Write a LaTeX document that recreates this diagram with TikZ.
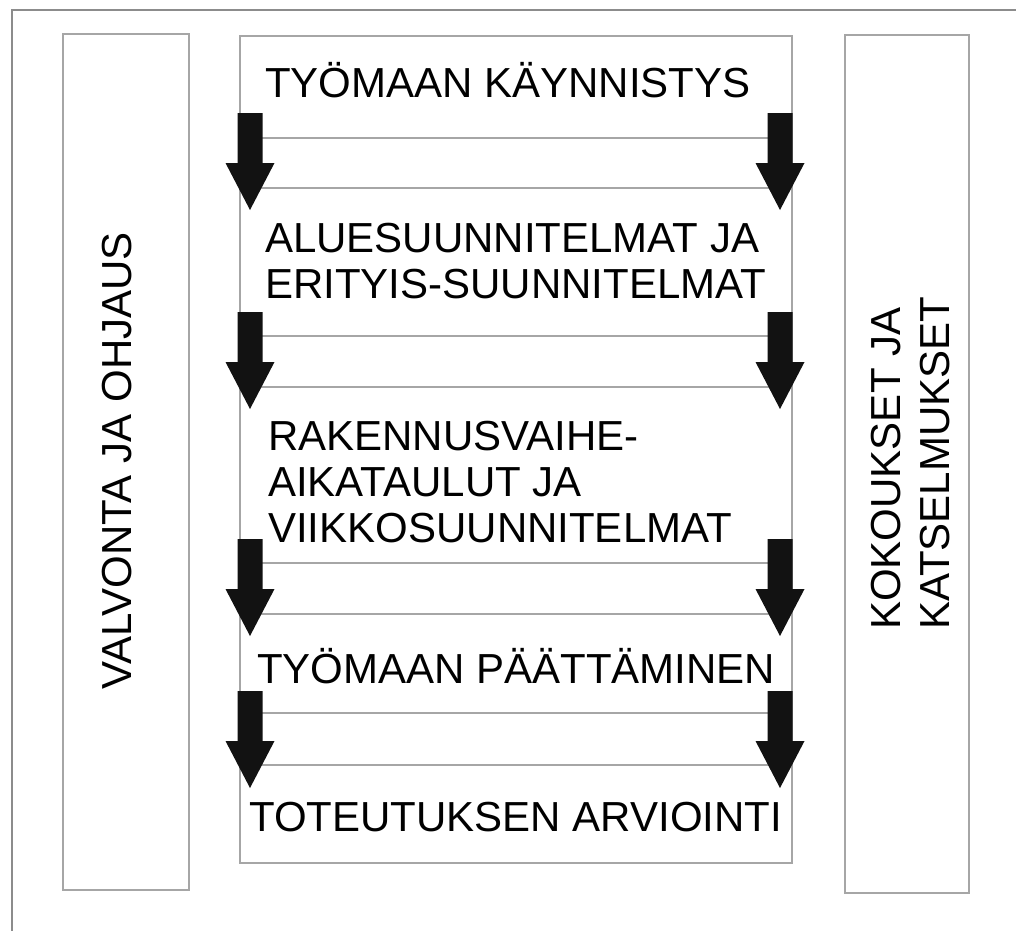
\documentclass[tikz,border=0pt]{standalone}
\usepackage{fontspec}
\setmainfont{Liberation Sans}
\begin{document}
\begin{tikzpicture}[x=0.75pt,y=-0.75pt,
  frame/.style={draw=black!45,line width=1.1pt},
  boxline/.style={draw=black!35,line width=0.9pt},
  lbl/.style={inner sep=0pt,anchor=base west,font=\fontsize{31.5}{34.5}\selectfont,text=black},
  vlbl/.style={lbl,rotate=90},
  blockarrow/.pic={\fill[black!93] (-12.5,0) -- (12.5,0) -- (12.5,50) -- (24.5,50) -- (0,97) -- (-24.5,50) -- (-12.5,50) -- cycle;}
]
\useasboundingbox (0,0) rectangle (1016,931);
\fill[white] (0,0) rectangle (1016,931);
% outer frame (top and left)
\draw[frame] (1016,10) -- (12,10) -- (12,931);
% side boxes
\draw[boxline] (63,34) rectangle (189,890);
\draw[boxline] (845,35) rectangle (969,893);
% centre column
\draw[boxline] (240,36) rectangle (792,863);
\foreach \yy in {138,188,336,387,563,614,713,765}
  \draw[boxline] (240,\yy) -- (792,\yy);
% stage texts
\node[lbl] (s1) at (265,98) {TYÖMAAN KÄYNNISTYS};
\node[lbl] (s2a) at (265,252) {ALUESUUNNITELMAT JA};
\node[lbl] (s2b) at (265,298) {ERITYIS-SUUNNITELMAT};
\node[lbl] (s3a) at (268,450) {RAKENNUSVAIHE-};
\node[lbl] (s3b) at (268,496) {AIKATAULUT JA};
\node[lbl] (s3c) at (268,542) {VIIKKOSUUNNITELMAT};
\node[lbl] (s4) at (257,683) {TYÖMAAN PÄÄTTÄMINEN};
\node[lbl] (s5) at (249,831) {TOTEUTUKSEN ARVIOINTI};
% side texts
\node[vlbl] (left) at (131,690) {VALVONTA JA OHJAUS};
\node[vlbl] (right1) at (900,630) {KOKOUKSET JA};
\node[vlbl] (right2) at (949,630) {KATSELMUKSET};
% arrows
\foreach \yy in {113,312,539,691}{
  \pic at (250,\yy) {blockarrow};
  \pic at (780,\yy) {blockarrow};
}
\end{tikzpicture}
\end{document}
